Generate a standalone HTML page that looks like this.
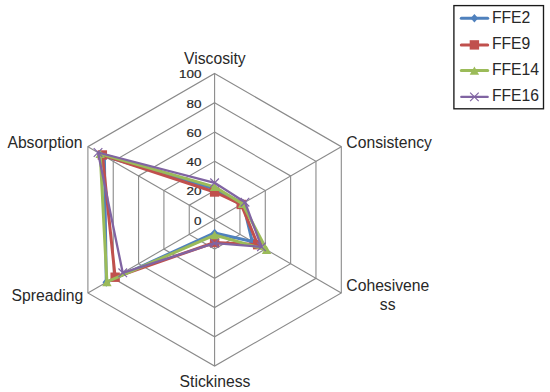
<!DOCTYPE html>
<html><head><meta charset="utf-8"><style>
html,body{margin:0;padding:0;background:#fff;}
body{width:550px;height:392px;overflow:hidden;}
svg{display:block;}
text{font-family:"Liberation Sans",sans-serif;fill:#282828;}
.c{font-size:16.5px;}
.n{font-size:11.6px;stroke:#282828;stroke-width:0.2px;}
</style></head><body>
<svg width="550" height="392" viewBox="0 0 550 392">
<polygon points="214.60,190.54 239.94,205.17 239.94,234.43 214.60,249.06 189.26,234.43 189.26,205.17" fill="none" stroke="#8a8a8a" stroke-width="1.1"/>
<polygon points="214.60,161.28 265.28,190.54 265.28,249.06 214.60,278.32 163.92,249.06 163.92,190.54" fill="none" stroke="#8a8a8a" stroke-width="1.1"/>
<polygon points="214.60,132.02 290.62,175.91 290.62,263.69 214.60,307.58 138.58,263.69 138.58,175.91" fill="none" stroke="#8a8a8a" stroke-width="1.1"/>
<polygon points="214.60,102.76 315.96,161.28 315.96,278.32 214.60,336.84 113.24,278.32 113.24,161.28" fill="none" stroke="#8a8a8a" stroke-width="1.1"/>
<polygon points="214.60,73.50 341.30,146.65 341.30,292.95 214.60,366.10 87.90,292.95 87.90,146.65" fill="none" stroke="#8a8a8a" stroke-width="1.1"/>
<line x1="214.6" y1="219.8" x2="214.60" y2="73.50" stroke="#8a8a8a" stroke-width="1.1"/>
<line x1="214.6" y1="219.8" x2="341.30" y2="146.65" stroke="#8a8a8a" stroke-width="1.1"/>
<line x1="214.6" y1="219.8" x2="341.30" y2="292.95" stroke="#8a8a8a" stroke-width="1.1"/>
<line x1="214.6" y1="219.8" x2="214.60" y2="366.10" stroke="#8a8a8a" stroke-width="1.1"/>
<line x1="214.6" y1="219.8" x2="87.90" y2="292.95" stroke="#8a8a8a" stroke-width="1.1"/>
<line x1="214.6" y1="219.8" x2="87.90" y2="146.65" stroke="#8a8a8a" stroke-width="1.1"/>
<text transform="translate(201.50,224.60) scale(1.16,1)" text-anchor="end" class="n">0</text>
<text transform="translate(201.50,195.34) scale(1.16,1)" text-anchor="end" class="n">20</text>
<text transform="translate(201.50,166.08) scale(1.16,1)" text-anchor="end" class="n">40</text>
<text transform="translate(201.50,136.82) scale(1.16,1)" text-anchor="end" class="n">60</text>
<text transform="translate(201.50,107.56) scale(1.16,1)" text-anchor="end" class="n">80</text>
<text transform="translate(201.50,78.30) scale(1.16,1)" text-anchor="end" class="n">100</text>
<polygon points="214.60,189.08 243.11,203.34 252.23,241.53 214.60,232.97 106.27,282.34 104.37,156.16" fill="none" stroke="#4F81BD" stroke-width="3.0" stroke-linejoin="round"/>
<polygon points="214.60,184.78 218.40,189.08 214.60,193.38 210.80,189.08" fill="#4F81BD"/>
<polygon points="243.11,199.04 246.91,203.34 243.11,207.64 239.31,203.34" fill="#4F81BD"/>
<polygon points="252.23,237.23 256.03,241.53 252.23,245.83 248.43,241.53" fill="#4F81BD"/>
<polygon points="214.60,228.67 218.40,232.97 214.60,237.27 210.80,232.97" fill="#4F81BD"/>
<polygon points="106.27,278.04 110.07,282.34 106.27,286.64 102.47,282.34" fill="#4F81BD"/>
<polygon points="104.37,151.86 108.17,156.16 104.37,160.46 100.57,156.16" fill="#4F81BD"/>
<polygon points="214.60,192.00 241.21,204.44 257.68,244.67 214.60,242.48 115.14,277.22 102.34,154.99" fill="none" stroke="#C0504D" stroke-width="3.0" stroke-linejoin="round"/>
<rect x="209.90" y="187.30" width="9.40" height="9.40" fill="#C0504D"/>
<rect x="236.51" y="199.74" width="9.40" height="9.40" fill="#C0504D"/>
<rect x="252.98" y="239.97" width="9.40" height="9.40" fill="#C0504D"/>
<rect x="209.90" y="237.78" width="9.40" height="9.40" fill="#C0504D"/>
<rect x="110.44" y="272.52" width="9.40" height="9.40" fill="#C0504D"/>
<rect x="97.64" y="150.29" width="9.40" height="9.40" fill="#C0504D"/>
<polygon points="214.60,186.88 242.47,203.71 266.55,249.79 214.60,235.02 106.91,281.98 100.19,153.75" fill="none" stroke="#9BBB59" stroke-width="3.0" stroke-linejoin="round"/>
<polygon points="214.60,182.68 219.30,191.08 209.90,191.08" fill="#9BBB59"/>
<polygon points="242.47,199.51 247.17,207.91 237.77,207.91" fill="#9BBB59"/>
<polygon points="266.55,245.59 271.25,253.99 261.85,253.99" fill="#9BBB59"/>
<polygon points="214.60,230.82 219.30,239.22 209.90,239.22" fill="#9BBB59"/>
<polygon points="106.91,277.78 111.61,286.18 102.21,286.18" fill="#9BBB59"/>
<polygon points="100.19,149.55 104.89,157.95 95.49,157.95" fill="#9BBB59"/>
<polygon points="214.60,182.79 245.01,202.24 261.48,246.87 214.60,243.21 122.74,272.83 98.04,152.50" fill="none" stroke="#8064A2" stroke-width="2.3" stroke-linejoin="round"/>
<path d="M210.30,178.49L218.90,187.09M218.90,178.49L210.30,187.09" stroke="#8064A2" stroke-width="1.2" fill="none"/>
<path d="M240.71,197.94L249.31,206.54M249.31,197.94L240.71,206.54" stroke="#8064A2" stroke-width="1.2" fill="none"/>
<path d="M257.18,242.57L265.78,251.17M265.78,242.57L257.18,251.17" stroke="#8064A2" stroke-width="1.2" fill="none"/>
<path d="M210.30,238.91L218.90,247.51M218.90,238.91L210.30,247.51" stroke="#8064A2" stroke-width="1.2" fill="none"/>
<path d="M118.44,268.53L127.04,277.13M127.04,268.53L118.44,277.13" stroke="#8064A2" stroke-width="1.2" fill="none"/>
<path d="M93.74,148.20L102.34,156.80M102.34,148.20L93.74,156.80" stroke="#8064A2" stroke-width="1.2" fill="none"/>
<text transform="translate(184.00,63.70) scale(0.953,1)" text-anchor="start" class="c">Viscosity</text>
<text transform="translate(346.30,147.70) scale(0.953,1)" text-anchor="start" class="c">Consistency</text>
<text transform="translate(346.30,291.30) scale(0.953,1)" text-anchor="start" class="c">Cohesivene</text>
<text transform="translate(379.80,309.70) scale(0.953,1)" text-anchor="start" class="c">ss</text>
<text transform="translate(179.60,386.80) scale(0.953,1)" text-anchor="start" class="c">Stickiness</text>
<text transform="translate(11.50,300.70) scale(0.953,1)" text-anchor="start" class="c">Spreading</text>
<text transform="translate(7.40,147.70) scale(0.953,1)" text-anchor="start" class="c">Absorption</text>
<rect x="453.9" y="5.6" width="89.6" height="103.2" fill="#fff" stroke="#1a1a1a" stroke-width="1.35"/>
<line x1="461.3" y1="18.3" x2="487.7" y2="18.3" stroke="#4F81BD" stroke-width="3.0" stroke-linecap="round"/>
<polygon points="474.40,14.00 478.20,18.30 474.40,22.60 470.60,18.30" fill="#4F81BD"/>
<text transform="translate(491.90,22.70) scale(0.953,1)" text-anchor="start" class="c">FFE2</text>
<line x1="461.3" y1="44.9" x2="487.7" y2="44.9" stroke="#C0504D" stroke-width="3.0" stroke-linecap="round"/>
<rect x="469.70" y="40.20" width="9.40" height="9.40" fill="#C0504D"/>
<text transform="translate(491.90,49.30) scale(0.953,1)" text-anchor="start" class="c">FFE9</text>
<line x1="461.3" y1="70.6" x2="487.7" y2="70.6" stroke="#9BBB59" stroke-width="3.0" stroke-linecap="round"/>
<polygon points="474.40,66.40 479.10,74.80 469.70,74.80" fill="#9BBB59"/>
<text transform="translate(491.90,75.30) scale(0.953,1)" text-anchor="start" class="c">FFE14</text>
<line x1="461.3" y1="96.9" x2="487.7" y2="96.9" stroke="#8064A2" stroke-width="2.3" stroke-linecap="round"/>
<path d="M470.10,92.60L478.70,101.20M478.70,92.60L470.10,101.20" stroke="#8064A2" stroke-width="1.2" fill="none"/>
<text transform="translate(491.90,101.10) scale(0.953,1)" text-anchor="start" class="c">FFE16</text>
</svg>
</body></html>
